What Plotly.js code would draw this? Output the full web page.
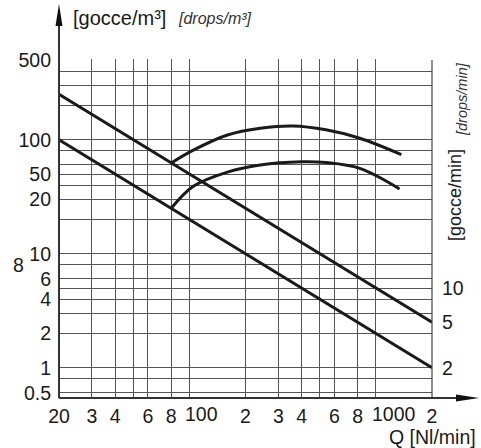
<!DOCTYPE html>
<html>
<head>
<meta charset="utf-8">
<script src="https://cdn.plot.ly/plotly-3.0.1.min.js"></script>
<style>html,body{margin:0;padding:0;background:#fff;}#chart{width:481px;height:448px;}</style>
</head>
<body>
<div id="chart"></div>
<script>
// ---- data ----
const xTickVals = [20, 30, 40, 50, 60, 80, 100, 200, 300, 400, 500, 600, 800, 1000, 2000];
const xTickText = ['20', '3', '4', '', '6', '8', '', '2', '3', '4', '', '6', '8', '', '2'];
const xDecadeVals = [100, 1000];          // decade labels, drawn just right of their grid line
const xDecadeText = ['100', '1000'];
const yTickVals = [0.6, 0.8, 1, 2, 3, 4, 5, 6, 8, 10, 20, 30, 40, 50, 60, 80, 100, 200, 300, 400, 500];
const yTickText = ['0.5', '', '1', '2', '', '4', '', '6', '', '10', '', '20', '', '50', '', '', '100', '', '', '', '500'];
const rightTickVals = [2, 5, 10];
const rightTickText = ['2', '5', '10'];

const diagHighQ = [20, 2000];
const diagHighV = [250, 2.5];
const diagLowQ = [20, 2000];
const diagLowV = [100, 1];

const arcHighQ = [80, 105, 160, 240, 360, 540, 820, 1370];
const arcHighV = [62.5, 81, 110, 126, 132, 122, 103, 74];
const arcLowQ = [80, 105, 160, 240, 400, 540, 820, 1340];
const arcLowV = [25, 39, 52, 60, 64, 63, 56, 37];

// ---- layout helpers ----
const W = 481, H = 448, L = 59, R = 49, T = 59, B = 50;
const PW = W - L - R, PH = H - T - B;
const px = v => (v - L) / PW;          // pixel x -> paper x
const py = v => (H - B - v) / PH;      // pixel y -> paper y
const yMax = Math.log10(500) + 1 / 114;
const yMin = yMax - PH / 114;

const FONT = 'Liberation Sans, Arial, sans-serif';
const ink = '#1a1a1a';
const FS = 19.5;
const lineStyle = {color: ink, width: 3};

const traces = [
  {x: diagHighQ, y: diagHighV, mode: 'lines', line: lineStyle, hoverinfo: 'skip'},
  {x: diagLowQ, y: diagLowV, mode: 'lines', line: lineStyle, hoverinfo: 'skip'},
  {x: arcHighQ, y: arcHighV, mode: 'lines', line: Object.assign({shape: 'spline', smoothing: 1}, lineStyle), hoverinfo: 'skip'},
  {x: arcLowQ, y: arcLowV, mode: 'lines', line: Object.assign({shape: 'spline', smoothing: 1}, lineStyle), hoverinfo: 'skip'},
  {x: rightTickVals.map(() => 2000), y: rightTickVals, yaxis: 'y2', mode: 'markers', marker: {opacity: 0}, hoverinfo: 'skip'}
];

const annotations = [
  {xref: 'paper', yref: 'paper', x: px(71), y: py(18), xanchor: 'left', yanchor: 'middle', showarrow: false,
   text: '[gocce/m³]', font: {size: 20, family: FONT, color: ink}},
  {xref: 'paper', yref: 'paper', x: px(176), y: py(19), xanchor: 'left', yanchor: 'middle', showarrow: false,
   text: '<i>[drops/m³]</i>', font: {size: 16, family: FONT, color: '#333'}},
  {xref: 'paper', yref: 'paper', x: px(478), y: py(437), xanchor: 'right', yanchor: 'middle', showarrow: false,
   text: 'Q [Nl/min]', font: {size: FS, family: FONT, color: ink}},
  {xref: 'paper', yref: 'paper', x: px(455), y: py(195), xanchor: 'center', yanchor: 'middle', showarrow: false,
   textangle: -90, text: '[gocce/min]', font: {size: 18, family: FONT, color: ink}},
  {xref: 'paper', yref: 'paper', x: px(462), y: py(99), xanchor: 'center', yanchor: 'middle', showarrow: false,
   textangle: -90, text: '<i>[drops/min]</i>', font: {size: 14.5, family: FONT, color: '#333'}},
  {xref: 'paper', yref: 'y', x: px(18), y: Math.log10(8), xanchor: 'center', yanchor: 'middle', showarrow: false,
   text: '8', font: {size: FS, family: FONT, color: ink}}
];
xDecadeVals.forEach((v, i) => annotations.push({
  xref: 'x', yref: 'paper', x: Math.log10(v), y: py(414), xanchor: 'left', yanchor: 'middle',
  xshift: -5, showarrow: false, borderpad: 0, text: xDecadeText[i], font: {size: FS, family: FONT, color: ink}
}));

const layout = {
  width: W, height: H,
  margin: {l: L, r: R, t: T, b: B, pad: 0},
  paper_bgcolor: '#fff', plot_bgcolor: '#fff',
  showlegend: false,
  font: {family: FONT, color: ink, size: FS},
  xaxis: {
    type: 'log', range: [Math.log10(20), Math.log10(2000)],
    tickmode: 'array', tickvals: xTickVals, ticktext: xTickText, tickangle: 0,
    showgrid: true, gridcolor: '#555', gridwidth: 1, automargin: false,
    showline: false, zeroline: false, ticks: '', ticklabelstandoff: 4,
    tickfont: {size: FS, family: FONT, color: ink}
  },
  yaxis: {
    type: 'log', range: [yMin, yMax], automargin: false,
    tickmode: 'array', tickvals: yTickVals, ticktext: yTickText,
    showgrid: true, gridcolor: '#555', gridwidth: 1,
    showline: false, zeroline: false, ticks: '', ticklabelstandoff: 7,
    tickfont: {size: FS, family: FONT, color: ink}
  },
  yaxis2: {
    type: 'log', overlaying: 'y', side: 'right', automargin: false,
    range: [yMin + Math.log10(2), yMax + Math.log10(2)],
    tickmode: 'array', tickvals: rightTickVals, ticktext: rightTickText,
    showgrid: false, showline: false, zeroline: false, ticks: '', ticklabelstandoff: 9,
    tickfont: {size: FS, family: FONT, color: ink}
  },
  shapes: [
    {type: 'line', xref: 'paper', yref: 'paper', x0: 1, x1: 1, y0: 0, y1: py(60), line: {color: '#444', width: 1.2}},
    {type: 'line', xref: 'paper', yref: 'paper', x0: 0, x1: 0, y0: 0, y1: py(22), line: {color: '#333', width: 2}},
    {type: 'path', xref: 'paper', yref: 'paper', path: `M ${px(L - 3.5)} ${py(26)} L ${px(L)} ${py(4)} L ${px(L + 3.5)} ${py(26)} Z`, fillcolor: '#111', line: {width: 0}},
    {type: 'line', xref: 'paper', yref: 'paper', x0: 0, x1: px(460), y0: 0, y1: 0, line: {color: '#333', width: 2}},
    {type: 'path', xref: 'paper', yref: 'paper', path: `M ${px(456)} ${py(H - B - 3.5)} L ${px(479)} ${py(H - B)} L ${px(456)} ${py(H - B + 3.5)} Z`, fillcolor: '#111', line: {width: 0}}
  ],
  annotations: annotations
};

Plotly.newPlot('chart', traces, layout, {staticPlot: true, displayModeBar: false});
</script>
</body>
</html>
